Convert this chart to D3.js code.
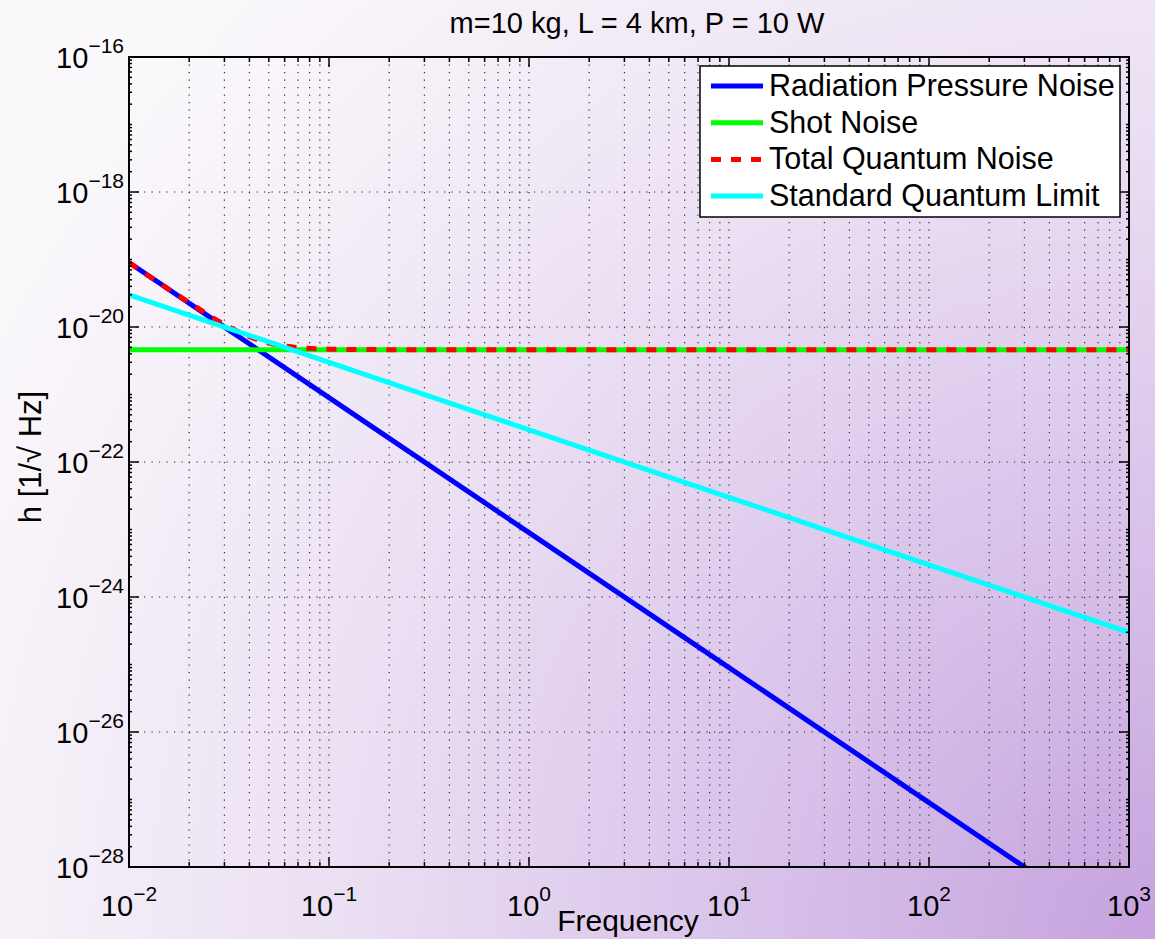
<!DOCTYPE html>
<html>
<head>
<meta charset="utf-8">
<script src="https://cdn.jsdelivr.net/npm/d3@7"></script>
<style>
  html, body { margin: 0; padding: 0; background: #fff; }
  svg { display: block; font-family: "Liberation Sans", Arial, Helvetica, sans-serif; }
</style>
</head>
<body>
<svg id="chart" width="1155" height="939"></svg>
<script>
// ---------------- data ----------------
const titleText = "m=10 kg, L = 4 km, P = 10 W";
const xLabel = "Frequency";
const yLabel = "h [1/\u221A Hz]";

const xTickExps = [-2, -1, 0, 1, 2, 3];
const yTickExps = [-16, -18, -20, -22, -24, -26, -28];

const seriesNames = ["Radiation Pressure Noise", "Shot Noise", "Total Quantum Noise", "Standard Quantum Limit"];
const seriesColors = ["#0000ff", "#00ff00", "#ff0000", "#00ffff"];

const radFreq = [0.01, 0.1, 1, 10, 100, 1000];
const radValues = [9e-20, 9e-22, 9e-24, 9e-26, 9e-28, 9e-30];

const shotFreq = [0.01, 0.1, 1, 10, 100, 1000];
const shotValues = [4.6e-21, 4.6e-21, 4.6e-21, 4.6e-21, 4.6e-21, 4.6e-21];

const totalFreq = [0.01, 0.015, 0.02, 0.03, 0.04, 0.05, 0.07, 0.1, 0.2, 1, 10, 100, 1000];
const totalValues = [9e-20, 4.0e-20, 2.3e-20, 1.09e-20, 7.2e-21, 5.8e-21, 4.95e-21, 4.7e-21, 4.62e-21, 4.6e-21, 4.6e-21, 4.6e-21, 4.6e-21];

const sqlFreq = [0.01, 0.1, 1, 10, 100, 1000];
const sqlValues = [3.0e-20, 3.0e-21, 3.0e-22, 3.0e-23, 3.0e-24, 3.0e-25];

// ---------------- layout ----------------
const W = 1155, H = 939;
const plot = { left: 129, right: 1129, top: 57, bottom: 867 };

const svg = d3.select("#chart");
const defs = svg.append("defs");

const grad = defs.append("radialGradient")
  .attr("id", "bg").attr("gradientUnits", "userSpaceOnUse")
  .attr("cx", 1155).attr("cy", 939).attr("r", 1350);
grad.append("stop").attr("offset", 0).attr("stop-color", "#c6a2de");
grad.append("stop").attr("offset", 0.3).attr("stop-color", "#d8c2ea");
grad.append("stop").attr("offset", 0.6).attr("stop-color", "#ebdff3");
grad.append("stop").attr("offset", 0.85).attr("stop-color", "#f6f1f8");
grad.append("stop").attr("offset", 1).attr("stop-color", "#fbf9fc");

svg.append("rect").attr("width", W).attr("height", H).attr("fill", "url(#bg)");

defs.append("clipPath").attr("id", "clip")
  .append("rect").attr("x", plot.left).attr("y", plot.top)
  .attr("width", plot.right - plot.left).attr("height", plot.bottom - plot.top);

const x = d3.scaleLog().domain([1e-2, 1e3]).range([plot.left, plot.right]);
const y = d3.scaleLog().domain([1e-28, 1e-16]).range([plot.bottom, plot.top]);

const xMajor = xTickExps.map(e => Math.pow(10, e));
const xMinor = [];
for (let e = -2; e < 3; e++) for (let m = 2; m <= 9; m++) xMinor.push(m * Math.pow(10, e));
const yMajor = yTickExps.map(e => Math.pow(10, e));
const yMinor = [];
for (let e = -28; e < -16; e++) for (let m = 1; m <= 9; m++) {
  const v = m * Math.pow(10, e);
  if (!yMajor.some(t => Math.abs(Math.log10(t) - Math.log10(v)) < 1e-9)) yMinor.push(v);
}

// grid
const grid = svg.append("g");
grid.selectAll("line.vx").data(xMajor.concat(xMinor).filter(v => v > 1e-2 && v < 1e3)).join("line")
  .attr("x1", d => x(d)).attr("x2", d => x(d))
  .attr("y1", plot.top).attr("y2", plot.bottom)
  .attr("stroke", "#333").attr("stroke-width", 1.2).attr("stroke-dasharray", "1.2,6.3");
grid.selectAll("line.hy").data(yMajor.filter(v => v > 1e-28 && v < 1e-16)).join("line")
  .attr("x1", plot.left).attr("x2", plot.right)
  .attr("y1", d => y(d)).attr("y2", d => y(d))
  .attr("stroke", "#222").attr("stroke-width", 1.2).attr("stroke-dasharray", "1.2,6.3");

// curves
const line = d3.line().x(d => x(d[0])).y(d => y(d[1])).curve(d3.curveMonotoneX);
const curves = svg.append("g").attr("clip-path", "url(#clip)");
const seriesData = [
  d3.zip(radFreq, radValues),
  d3.zip(shotFreq, shotValues),
  d3.zip(totalFreq, totalValues),
  d3.zip(sqlFreq, sqlValues)
];
seriesData.forEach((data, i) => {
  curves.append("path").datum(data)
    .attr("d", line)
    .attr("fill", "none")
    .attr("stroke", seriesColors[i])
    .attr("stroke-width", 5)
    .attr("stroke-dasharray", i === 2 ? "10,10" : null);
});

// axes box
const axes = svg.append("g");
axes.append("rect").attr("x", plot.left).attr("y", plot.top)
  .attr("width", plot.right - plot.left).attr("height", plot.bottom - plot.top)
  .attr("fill", "none").attr("stroke", "#000").attr("stroke-width", 2);

function xTicks(vals, len) {
  vals.forEach(v => {
    axes.append("line").attr("x1", x(v)).attr("x2", x(v)).attr("y1", plot.bottom).attr("y2", plot.bottom - len).attr("stroke", "#000").attr("stroke-width", 1.5);
    axes.append("line").attr("x1", x(v)).attr("x2", x(v)).attr("y1", plot.top).attr("y2", plot.top + len).attr("stroke", "#000").attr("stroke-width", 1.5);
  });
}
function yTicks(vals, len) {
  vals.forEach(v => {
    axes.append("line").attr("x1", plot.left).attr("x2", plot.left + len).attr("y1", y(v)).attr("y2", y(v)).attr("stroke", "#000").attr("stroke-width", 1.5);
    axes.append("line").attr("x1", plot.right).attr("x2", plot.right - len).attr("y1", y(v)).attr("y2", y(v)).attr("stroke", "#000").attr("stroke-width", 1.5);
  });
}
xTicks(xMajor, 10);
xTicks(xMinor, 5);
yTicks(yMajor, 10);
yTicks(yMinor, 3);

// tick labels
const labels = svg.append("g").attr("fill", "#000");
xTickExps.forEach(e => {
  const t = labels.append("text").attr("x", x(Math.pow(10, e))).attr("y", 916)
    .attr("text-anchor", "middle").attr("font-size", 29);
  t.append("tspan").text("10");
  t.append("tspan").attr("dy", -15).attr("font-size", 21).text(e < 0 ? "\u2212" + (-e) : String(e));
});
yTickExps.forEach(e => {
  const t = labels.append("text").attr("x", 124).attr("y", y(Math.pow(10, e)) + 11)
    .attr("text-anchor", "end").attr("font-size", 29);
  t.append("tspan").text("10");
  t.append("tspan").attr("dy", -15).attr("font-size", 21).text("\u2212" + (-e));
});

// title & axis labels
svg.append("text").attr("x", 637).attr("y", 33).attr("text-anchor", "middle")
  .attr("font-size", 29).text(titleText);
svg.append("text").attr("x", 628).attr("y", 931).attr("text-anchor", "middle")
  .attr("font-size", 30).text(xLabel);
svg.append("text").attr("transform", "translate(41,457) rotate(-90)").attr("text-anchor", "middle")
  .attr("font-size", 31).text(yLabel);

// legend
const lg = svg.append("g");
lg.append("rect").attr("x", 700).attr("y", 66).attr("width", 420).attr("height", 151)
  .attr("fill", "#fff").attr("stroke", "#000").attr("stroke-width", 1.5);
seriesNames.forEach((name, i) => {
  const yy = 86 + i * 36.7;
  lg.append("line").attr("x1", 711).attr("x2", 763).attr("y1", yy).attr("y2", yy)
    .attr("stroke", seriesColors[i]).attr("stroke-width", 5)
    .attr("stroke-dasharray", i === 2 ? "10,10" : null);
  lg.append("text").attr("x", 769).attr("y", yy + 10).attr("font-size", 30.5).text(name);
});
</script>
</body>
</html>
